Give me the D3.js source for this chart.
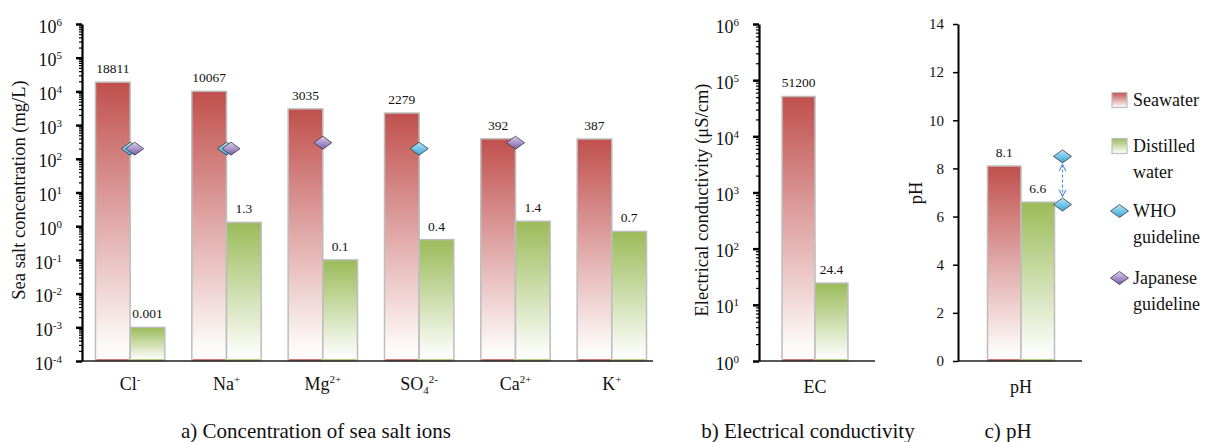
<!DOCTYPE html>
<html>
<head>
<meta charset="utf-8">
<script src="https://cdn.jsdelivr.net/npm/d3@7"></script>
<style>
  body { margin: 0; background: #fff; }
  svg text { font-family: "Liberation Serif", Tinos, "Times New Roman", "DejaVu Serif", serif !important; fill: #111; }
</style>
</head>
<body>
<div id="chart"></div>
<script>
// data
const ions = ["Cl", "Na", "Mg", "SO4", "Ca", "K"]
const charges = ["-", "+", "2+", "2-", "2+", "+"]
const seawaterIons = [18811, 10067, 3035, 2279, 392, 387]
const distilledIons = [0.001, 1.3, 0.1, 0.4, 1.4, 0.7]
const whoIons = [200, 200, null, 200, null, null]
const japanIons = [200, 200, 300, null, 300, null]

const ecCats = ["EC"]
const seawaterEC = [51200]
const distilledEC = [24.4]

const phCats = ["pH"]
const seawaterPH = [8.1]
const distilledPH = [6.6]
const whoPH = [6.5, 8.5]

const series = ["Seawater", "Distilled"]
const legendLabels = [["Seawater"], ["Distilled", "water"], ["WHO", "guideline"], ["Japanese", "guideline"]]

const width = 1212
const height = 442
const yTop = 24
const yBottom = 361
const serif = '"Liberation Serif", Tinos, "Times New Roman", "DejaVu Serif", serif'

const svg = d3.select('#chart').append('svg')
  .attr('width', width)
  .attr('height', height)
  .attr('font-family', serif)

// gradients
const defs = svg.append('defs')
const grad = function (id, c1, c2, stopEnd) {
  const g = defs.append('linearGradient').attr('id', id)
    .attr('x1', 0).attr('y1', 0).attr('x2', 0).attr('y2', 1)
  g.append('stop').attr('offset', 0).attr('stop-color', c1)
  g.append('stop').attr('offset', stopEnd).attr('stop-color', c2)
}
grad('gSea', '#c0504d', '#fdfafa', 0.95)
grad('gDist', '#9bbb59', '#fcfdfa', 0.95)
grad('gWho', '#b5e6fa', '#38a6da', 1)
grad('gJap', '#ddd0ee', '#7a5ba8', 1)

const fills = { Seawater: 'url(#gSea)', Distilled: 'url(#gDist)' }
const baseColors = { Seawater: '#c0504d', Distilled: '#9bbb59' }

const diamond = function (g, cx, cy, fill) {
  g.append('path')
    .attr('d', 'M' + (cx - 9) + ',' + cy + 'L' + cx + ',' + (cy - 6.5) + 'L' + (cx + 9) + ',' + cy + 'L' + cx + ',' + (cy + 6.5) + 'Z')
    .attr('fill', fill)
    .attr('stroke', '#3a3a3a')
    .attr('stroke-width', 0.8)
}

// log axis with major + minor ticks
const logAxis = function (y, xPos, eMin, eMax) {
  const minor = []
  for (let e = eMin; e < eMax; e++) {
    for (let k = 2; k <= 9; k++) minor.push(k * Math.pow(10, e))
  }
  const majors = d3.range(eMin, eMax + 1).map(e => Math.pow(10, e))
  svg.append('g')
    .attr('transform', 'translate(' + xPos + ',0)')
    .call(d3.axisLeft(y).tickValues(minor).tickSize(3).tickFormat(''))
    .call(g => g.select('.domain').remove())
    .selectAll('line').attr('stroke', '#000').attr('stroke-width', 1.2)
  const ax = svg.append('g')
    .attr('transform', 'translate(' + xPos + ',0)')
    .call(d3.axisLeft(y).tickValues(majors).tickSize(6).tickSizeOuter(0).tickPadding(14).tickFormat(''))
    .attr('font-family', serif)
  ax.select('.domain').attr('stroke', '#000').attr('stroke-width', 2.2)
  ax.selectAll('.tick line').attr('stroke', '#000').attr('stroke-width', 2.5)
  ax.selectAll('.tick text').each(function (d) {
    const t = d3.select(this)
    t.attr('font-size', 18).attr('dy', '0.45em').attr('fill', '#111')
    t.append('tspan').text('10')
    t.append('tspan').attr('dy', -7).attr('font-size', 11).text(String(Math.round(Math.log10(d))))
  })
}

const catLabel = function (sel, base, charge) {
  const m = base.match(/^([A-Za-z]+)(\d*)$/)
  sel.append('tspan').text(m[1])
  let shift = 0
  if (m[2]) {
    sel.append('tspan').attr('dy', 4).attr('font-size', 11).text(m[2])
    shift = 4
  }
  sel.append('tspan').attr('dy', -7 - shift).attr('font-size', 11).text(charge)
}

const drawBars = function (x, y, cats, sea, dist) {
  const xs = d3.scaleBand().domain(series).range([0, x.bandwidth()])
  const rows = cats.map((c, i) => ({ cat: c, vals: [sea[i], dist[i]] }))
  const grp = svg.append('g').selectAll('g')
    .data(rows).enter().append('g')
    .attr('transform', d => 'translate(' + x(d.cat) + ',0)')
  const cell = grp.selectAll('g')
    .data(d => series.map((s, j) => ({ s: s, v: d.vals[j] })))
    .enter().append('g')
  cell.append('rect')
    .attr('x', d => xs(d.s))
    .attr('y', d => y(d.v))
    .attr('width', xs.bandwidth())
    .attr('height', d => yBottom - y(d.v))
    .attr('fill', d => fills[d.s])
    .attr('stroke', '#bdbdbd')
    .attr('stroke-width', 1.5)
  cell.append('line')
    .attr('x1', d => xs(d.s) + 1).attr('x2', d => xs(d.s) + xs.bandwidth() - 1)
    .attr('y1', yBottom - 1).attr('y2', yBottom - 1)
    .attr('stroke', d => baseColors[d.s]).attr('stroke-width', 1.5)
  cell.append('text')
    .attr('x', d => xs(d.s) + xs.bandwidth() / 2)
    .attr('y', d => y(d.v) - 9)
    .attr('text-anchor', 'middle')
    .attr('font-size', 13.5)
    .text(d => String(d.v))
}

const xAxisLine = function (x1, x2) {
  svg.append('line')
    .attr('x1', x1).attr('x2', x2).attr('y1', yBottom).attr('y2', yBottom)
    .attr('stroke', '#222').attr('stroke-width', 1.5)
}

const yTitle = function (x, y, txt) {
  svg.append('text')
    .attr('transform', 'translate(' + x + ',' + y + ') rotate(-90)')
    .attr('text-anchor', 'middle')
    .attr('font-size', 18.5)
    .text(txt)
}

const caption = function (x, txt) {
  svg.append('text')
    .attr('x', x).attr('y', 438)
    .attr('text-anchor', 'middle')
    .attr('font-size', 21)
    .text(txt)
}

// ---- a) ions
const xA = d3.scaleBand().domain(ions).range([82, 660]).paddingInner(0.28).paddingOuter(0.14)
const yA = d3.scaleLog().domain([1e-4, 1e6]).range([yBottom, yTop])
drawBars(xA, yA, ions, seawaterIons, distilledIons)
xAxisLine(82, 653)
logAxis(yA, 82, -4, 6)
ions.forEach((c, i) => {
  const cx = xA(c) + xA.bandwidth() / 2
  const g = svg.append('g')
  if (whoIons[i] != null) diamond(g, cx, yA(whoIons[i]), 'url(#gWho)')
  if (japanIons[i] != null) diamond(g, cx + (whoIons[i] != null ? 4.5 : 0), yA(japanIons[i]), 'url(#gJap)')
  const t = svg.append('text')
    .attr('x', cx).attr('y', 390)
    .attr('text-anchor', 'middle')
    .attr('font-size', 18)
  catLabel(t, c, charges[i])
})
yTitle(25, 190, 'Sea salt concentration (mg/L)')
caption(316, 'a) Concentration of sea salt ions')

// ---- b) EC
const xB = d3.scaleBand().domain(ecCats).range([759, 871]).paddingInner(0).paddingOuter(0.35)
const yB = d3.scaleLog().domain([1, 1e6]).range([yBottom, yTop])
drawBars(xB, yB, ecCats, seawaterEC, distilledEC)
xAxisLine(759, 875)
logAxis(yB, 759, 0, 6)
svg.append('text').attr('x', xB('EC') + xB.bandwidth() / 2).attr('y', 393)
  .attr('text-anchor', 'middle').attr('font-size', 18).text('EC')
yTitle(708, 200, 'Electrical conductivity (\u03bcS/cm)')
caption(808, 'b) Electrical conductivity')

// ---- c) pH
const xC = d3.scaleBand().domain(phCats).range([958, 1084]).paddingInner(0).paddingOuter(0.44)
const yC = d3.scaleLinear().domain([0, 14]).range([yBottom, yTop])
drawBars(xC, yC, phCats, seawaterPH, distilledPH)
xAxisLine(958, 1082)
const axC = svg.append('g').attr('transform', 'translate(958,0)')
  .call(d3.axisLeft(yC).tickValues(d3.range(0, 15, 2)).tickSize(5).tickSizeOuter(0).tickPadding(9))
  .attr('font-family', serif)
axC.select('.domain').attr('stroke', '#000').attr('stroke-width', 2)
axC.selectAll('.tick line').attr('stroke', '#000').attr('stroke-width', 1.5)
axC.selectAll('.tick text').attr('font-size', 15).attr('fill', '#111')
svg.append('text').attr('x', xC('pH') + xC.bandwidth() / 2).attr('y', 393)
  .attr('text-anchor', 'middle').attr('font-size', 18).text('pH')
yTitle(922, 193, 'pH')
caption(1008, 'c) pH')

// WHO pH range
const whoX = xC('pH') + xC.bandwidth() + 8
defs.append('marker').attr('id', 'arr').attr('viewBox', '0 0 10 10')
  .attr('refX', 9).attr('refY', 5).attr('markerWidth', 7).attr('markerHeight', 7)
  .attr('orient', 'auto-start-reverse')
  .append('path').attr('d', 'M1,1L9,5L1,9').attr('fill', 'none').attr('stroke', '#5b8fd6').attr('stroke-width', 1.3)
svg.append('line')
  .attr('x1', whoX).attr('x2', whoX)
  .attr('y1', yC(d3.max(whoPH)) + 8).attr('y2', yC(d3.min(whoPH)) - 8)
  .attr('stroke', '#5b8fd6').attr('stroke-width', 1.2).attr('stroke-dasharray', '3,2')
  .attr('marker-start', 'url(#arr)').attr('marker-end', 'url(#arr)')
whoPH.forEach(v => diamond(svg, whoX, yC(v), 'url(#gWho)'))

// ---- legend
const legendY = [100, 146, 211, 278]
legendLabels.forEach((lines, i) => {
  const ly = legendY[i]
  if (i < 2) {
    svg.append('rect').attr('x', 1112).attr('y', ly - 7.5).attr('width', 15).attr('height', 15)
      .attr('fill', i === 0 ? 'url(#gSea)' : 'url(#gDist)')
      .attr('stroke', '#bdbdbd').attr('stroke-width', 1.2)
  } else {
    diamond(svg, 1119.5, ly, i === 2 ? 'url(#gWho)' : 'url(#gJap)')
  }
  const t = svg.append('text').attr('x', 1133).attr('y', ly + 6).attr('font-size', 18)
  lines.forEach((l, k) => {
    t.append('tspan').attr('x', 1133).attr('dy', k === 0 ? 0 : 25.5).text(l)
  })
})
</script>
</body>
</html>
